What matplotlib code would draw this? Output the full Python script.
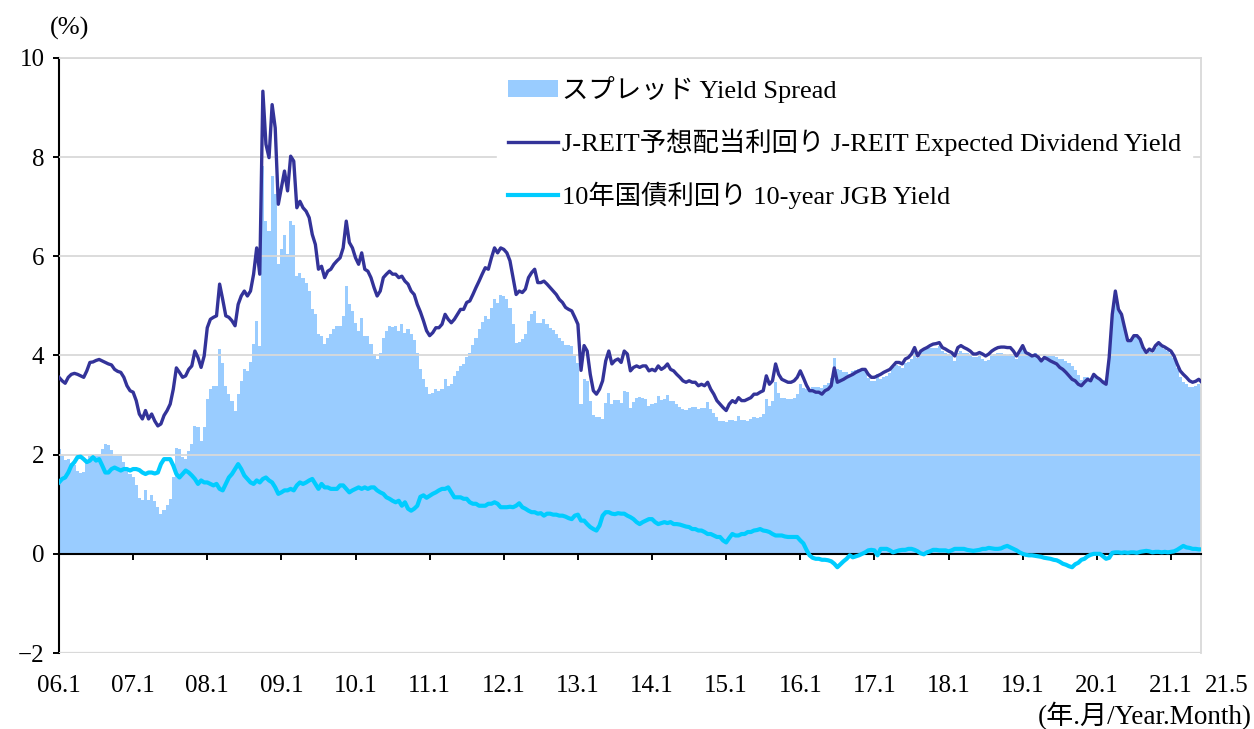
import numpy as np
import matplotlib
matplotlib.use("Agg")
import matplotlib.pyplot as plt
from matplotlib.transforms import blended_transform_factory

plt.rcParams['font.family'] = ['Liberation Serif', 'Noto Sans CJK JP']

# semi-monthly readings, 2006.1 -> 2021.5 (24 values per year)
reit_yield = [
    3.56, 3.49, 3.44, 3.56, 3.62, 3.64, 3.62, 3.59, 3.56, 3.69, 3.86, 3.87, 3.90, 3.92, 3.89, 3.86, 3.83, 3.81, 3.72, 3.68, 3.66, 3.56, 3.39, 3.29,
    3.26, 3.09, 2.82, 2.72, 2.89, 2.72, 2.82, 2.68, 2.58, 2.62, 2.79, 2.89, 3.02, 3.32, 3.75, 3.66, 3.56, 3.59, 3.72, 3.79, 4.09, 3.96, 3.76, 3.99,
    4.56, 4.73, 4.77, 4.80, 5.44, 5.13, 4.80, 4.77, 4.70, 4.60, 5.03, 5.20, 5.30, 5.20, 5.30, 5.64, 6.17, 5.64, 9.33, 8.26, 7.99, 9.06, 8.59, 7.05,
    7.38, 7.72, 7.32, 8.02, 7.92, 6.98, 7.11, 6.98, 6.91, 6.78, 6.44, 6.24, 5.74, 5.80, 5.57, 5.70, 5.74, 5.84, 5.91, 5.97, 6.17, 6.71, 6.28, 6.17,
    5.97, 5.84, 6.07, 5.74, 5.70, 5.57, 5.37, 5.20, 5.30, 5.57, 5.64, 5.70, 5.64, 5.64, 5.57, 5.60, 5.50, 5.44, 5.30, 5.23, 5.03, 4.88, 4.70, 4.50,
    4.40, 4.46, 4.56, 4.56, 4.63, 4.83, 4.73, 4.66, 4.73, 4.83, 4.93, 4.93, 5.07, 5.10, 5.23, 5.37, 5.50, 5.64, 5.77, 5.74, 5.97, 6.17, 6.07, 6.17,
    6.14, 6.07, 5.91, 5.57, 5.23, 5.30, 5.27, 5.34, 5.57, 5.67, 5.74, 5.47, 5.47, 5.50, 5.44, 5.37, 5.30, 5.23, 5.13, 5.07, 4.97, 4.93, 4.90, 4.77,
    4.63, 3.70, 4.20, 4.09, 3.62, 3.29, 3.22, 3.32, 3.49, 3.89, 4.09, 3.83, 3.90, 3.93, 3.86, 4.09, 4.03, 3.69, 3.76, 3.79, 3.76, 3.79, 3.79, 3.69,
    3.72, 3.69, 3.79, 3.72, 3.76, 3.83, 3.72, 3.69, 3.62, 3.56, 3.49, 3.46, 3.49, 3.46, 3.46, 3.39, 3.42, 3.39, 3.46, 3.32, 3.22, 3.09, 3.02, 2.95,
    2.89, 3.02, 3.09, 3.05, 3.15, 3.09, 3.09, 3.12, 3.15, 3.22, 3.22, 3.26, 3.29, 3.59, 3.42, 3.49, 3.83, 3.62, 3.52, 3.49, 3.46, 3.46, 3.49, 3.56,
    3.69, 3.55, 3.40, 3.29, 3.29, 3.26, 3.26, 3.22, 3.29, 3.32, 3.39, 3.75, 3.46, 3.49, 3.52, 3.56, 3.59, 3.62, 3.66, 3.69, 3.72, 3.72, 3.62, 3.56,
    3.56, 3.59, 3.62, 3.66, 3.69, 3.72, 3.79, 3.86, 3.86, 3.83, 3.93, 3.96, 4.03, 4.16, 3.99, 4.09, 4.13, 4.16, 4.20, 4.23, 4.24, 4.26, 4.16, 4.13,
    4.09, 4.06, 3.99, 4.16, 4.20, 4.16, 4.13, 4.09, 4.03, 4.03, 4.06, 4.03, 3.99, 4.03, 4.09, 4.13, 4.16, 4.17, 4.17, 4.16, 4.16, 4.09, 3.99, 4.09,
    4.20, 4.06, 4.03, 3.99, 4.01, 3.97, 3.89, 3.96, 3.93, 3.89, 3.86, 3.83, 3.76, 3.72, 3.66, 3.59, 3.52, 3.49, 3.42, 3.39, 3.46, 3.52, 3.49, 3.62,
    3.56, 3.52, 3.46, 3.42, 3.96, 4.83, 5.30, 4.93, 4.83, 4.56, 4.30, 4.30, 4.40, 4.40, 4.33, 4.16, 4.06, 4.13, 4.09, 4.20, 4.26, 4.20, 4.17, 4.13,
    4.09, 3.99, 3.83, 3.69, 3.62, 3.56, 3.49, 3.46, 3.48, 3.52, 3.46,
]

jgb_yield = [
    1.44, 1.51, 1.54, 1.64, 1.78, 1.85, 1.95, 1.96, 1.91, 1.85, 1.88, 1.95, 1.88, 1.91, 1.78, 1.64, 1.64, 1.71, 1.74, 1.71, 1.68, 1.71, 1.71, 1.68,
    1.71, 1.71, 1.69, 1.64, 1.61, 1.64, 1.64, 1.62, 1.64, 1.81, 1.91, 1.91, 1.91, 1.78, 1.61, 1.54, 1.61, 1.68, 1.64, 1.58, 1.51, 1.41, 1.48, 1.44,
    1.44, 1.41, 1.38, 1.41, 1.31, 1.28, 1.41, 1.54, 1.61, 1.71, 1.81, 1.71, 1.58, 1.51, 1.44, 1.41, 1.48, 1.44, 1.51, 1.54, 1.48, 1.44, 1.34, 1.21,
    1.24, 1.28, 1.28, 1.31, 1.28, 1.38, 1.44, 1.41, 1.44, 1.48, 1.51, 1.41, 1.31, 1.41, 1.34, 1.34, 1.31, 1.31, 1.31, 1.38, 1.38, 1.31, 1.24, 1.28,
    1.31, 1.34, 1.31, 1.34, 1.31, 1.34, 1.34, 1.28, 1.24, 1.21, 1.14, 1.11, 1.07, 1.04, 1.07, 0.97, 1.04, 0.91, 0.87, 0.91, 0.97, 1.15, 1.18, 1.13,
    1.17, 1.21, 1.24, 1.28, 1.31, 1.31, 1.34, 1.24, 1.14, 1.14, 1.14, 1.11, 1.11, 1.04, 1.01, 1.01, 0.97, 0.97, 0.97, 1.01, 1.01, 1.04, 1.01, 0.94,
    0.94, 0.94, 0.95, 0.94, 0.97, 1.02, 0.94, 0.91, 0.87, 0.84, 0.84, 0.81, 0.82, 0.77, 0.81, 0.81, 0.79, 0.79, 0.77, 0.77, 0.75, 0.72, 0.70, 0.77,
    0.79, 0.67, 0.67, 0.60, 0.54, 0.50, 0.47, 0.57, 0.77, 0.84, 0.84, 0.81, 0.80, 0.82, 0.81, 0.81, 0.77, 0.74, 0.70, 0.64, 0.60, 0.64, 0.67, 0.70,
    0.70, 0.64, 0.60, 0.62, 0.64, 0.62, 0.64, 0.60, 0.60, 0.59, 0.57, 0.55, 0.54, 0.50, 0.50, 0.47, 0.47, 0.44, 0.40, 0.40, 0.37, 0.34, 0.34, 0.27,
    0.23, 0.32, 0.40, 0.37, 0.37, 0.40, 0.40, 0.44, 0.44, 0.47, 0.48, 0.50, 0.47, 0.46, 0.44, 0.40, 0.37, 0.37, 0.37, 0.35, 0.34, 0.34, 0.34, 0.34,
    0.27, 0.21, 0.08, -0.03, -0.08, -0.10, -0.10, -0.12, -0.12, -0.13, -0.15, -0.20, -0.27, -0.21, -0.15, -0.10, -0.03, -0.07, -0.05, -0.03, 0.00, 0.03, 0.07, 0.08,
    0.07, -0.03, 0.10, 0.10, 0.10, 0.07, 0.03, 0.05, 0.07, 0.08, 0.08, 0.10, 0.10, 0.08, 0.05, 0.01, -0.01, 0.03, 0.05, 0.08, 0.08, 0.07, 0.07, 0.07,
    0.05, 0.07, 0.10, 0.10, 0.10, 0.10, 0.08, 0.07, 0.06, 0.07, 0.08, 0.10, 0.10, 0.12, 0.11, 0.10, 0.10, 0.11, 0.14, 0.16, 0.13, 0.10, 0.07, 0.03,
    0.00, -0.02, -0.03, -0.03, -0.04, -0.05, -0.06, -0.08, -0.09, -0.10, -0.12, -0.13, -0.16, -0.20, -0.22, -0.25, -0.27, -0.21, -0.18, -0.12, -0.10, -0.05, -0.02, 0.00,
    0.00, 0.00, -0.05, -0.10, -0.08, 0.02, 0.03, 0.03, 0.02, 0.03, 0.02, 0.03, 0.03, 0.02, 0.04, 0.05, 0.06, 0.05, 0.03, 0.04, 0.04, 0.03, 0.04, 0.03,
    0.04, 0.05, 0.08, 0.12, 0.16, 0.13, 0.12, 0.10, 0.10, 0.09, 0.09,
]

year_ticks = list(range(2006, 2022))
year_labels = [f"{y % 100:02d}.1" for y in year_ticks]
last_label = "21.5"

labels = ["スプレッド Yield Spread",
          "J-REIT予想配当利回り J-REIT Expected Dividend Yield",
          "10年国債利回り 10-year JGB Yield"]

reit = np.array(reit_yield)
jgb = np.array(jgb_yield)
spread = reit - jgb
t = 2006 + np.arange(len(reit)) / 24

fig = plt.figure(figsize=(12.54, 7.29), dpi=100)
ax = fig.add_axes([59 / 1254, 1 - 653 / 729, 1142 / 1254, 595 / 729])

bars = ax.bar(t, spread, width=1 / 24, color="#99CCFF", linewidth=0, zorder=1, label=labels[0])
l1, = ax.plot(t, reit, color="#333399", lw=2.4, zorder=3, label=labels[1])
l2, = ax.plot(t, jgb, color="#00CCFF", lw=3.0, zorder=3, label=labels[2])

ax.set_xlim(2006, 2006 + 1142 / 74.13)
ax.set_ylim(-2, 10)
ax.set_yticks(range(-2, 11, 2))
ax.yaxis.grid(True, color="#D9D9D9", lw=1.3)
ax.set_axisbelow(False)
ax.axhline(-2, color="#D9D9D9", lw=1.6, zorder=0.5)

ax.set_xticks(year_ticks)
ax.set_xticklabels(year_labels)

for side in ("top", "right"):
    ax.spines[side].set_color("#D9D9D9")
    ax.spines[side].set_linewidth(1.3)
ax.spines["left"].set_linewidth(1.5)
ax.spines["bottom"].set_position(("data", 0))
ax.spines["bottom"].set_linewidth(1.5)
ax.spines["bottom"].set_zorder(2.8)

ax.tick_params(axis="x", direction="out", length=4.5, width=1.4, pad=83, labelsize=18)
ax.tick_params(axis="y", direction="out", length=4.5, width=1.4, pad=6, labelsize=18)

# last label sits just past the axis end, level with the tick labels
trans = blended_transform_factory(ax.transAxes, ax.transData)
ax.text((1227 - 59) / 1142, -2.44, last_label, transform=trans, ha="center", va="top",
        fontsize=18, clip_on=False)

fig.text(70 / 1254, 1 - 28 / 729, "(%)", ha="center", va="center", fontsize=19)
fig.text(1252 / 1254, 1 - 716 / 729, "(年.月/Year.Month)", ha="right", va="center", fontsize=19.5)

leg = ax.legend(handles=[bars, l1, l2], labels=labels, loc="upper left",
                bbox_to_anchor=((497 - 59) / 1142, 0.988), borderaxespad=0,
                fontsize=19, frameon=True, fancybox=False, framealpha=1,
                facecolor="white", edgecolor="white", borderpad=0.4,
                handlelength=1.9, handleheight=0.6, handletextpad=0.18,
                labelspacing=0.97)

fig.savefig("out.png", dpi=100)
